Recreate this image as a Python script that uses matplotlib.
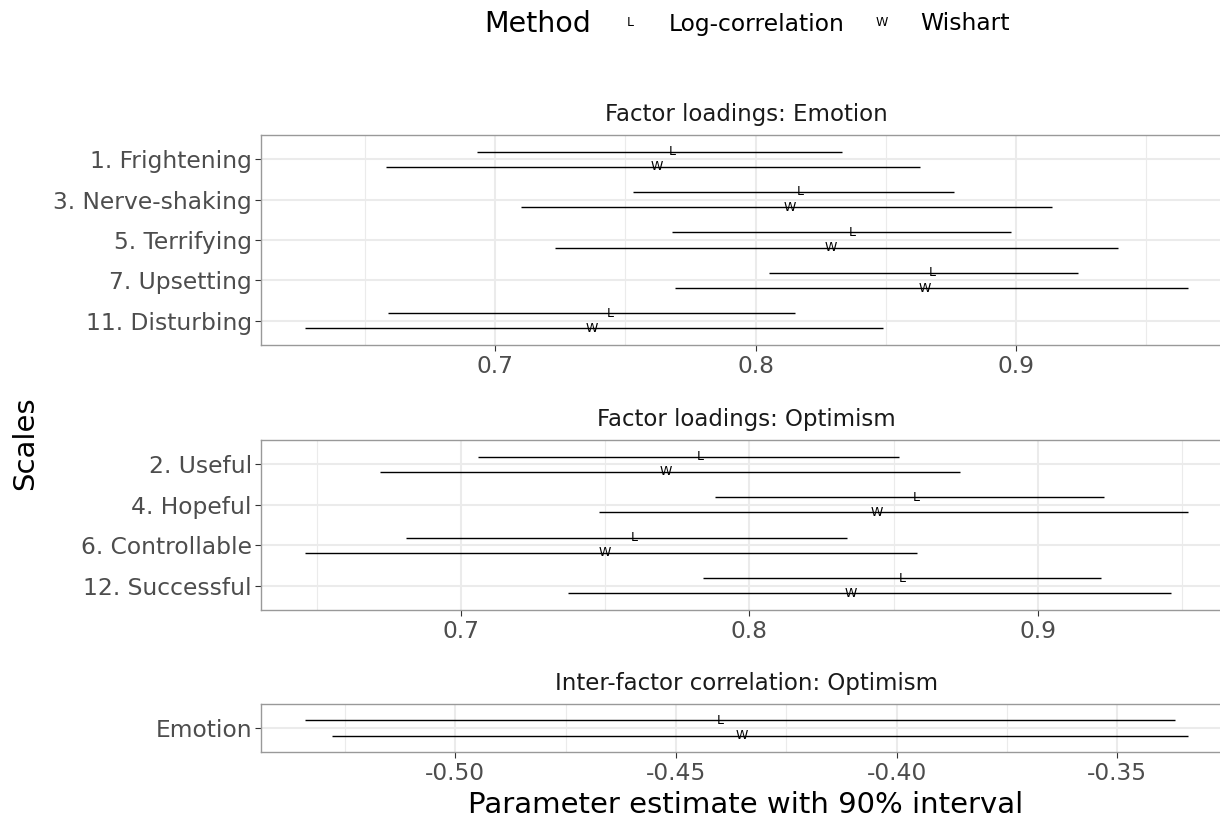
import matplotlib
matplotlib.use("Agg")
import matplotlib.pyplot as plt
from matplotlib.ticker import MultipleLocator, FormatStrFormatter
import numpy as np

plt.rcParams['font.family'] = ['DejaVu Sans']
plt.rcParams['axes.unicode_minus'] = False

# --- data ---
methods = ["Log-correlation", "Wishart"]
method_keys = ["L", "W"]

emotion_items = ["1. Frightening", "3. Nerve-shaking", "5. Terrifying", "7. Upsetting", "11. Disturbing"]
emo_log_est = [0.768, 0.817, 0.837, 0.868, 0.744]
emo_log_lo = [0.693, 0.753, 0.768, 0.805, 0.659]
emo_log_hi = [0.833, 0.876, 0.898, 0.924, 0.815]
emo_wis_est = [0.762, 0.813, 0.829, 0.865, 0.737]
emo_wis_lo = [0.658, 0.710, 0.723, 0.769, 0.627]
emo_wis_hi = [0.863, 0.914, 0.939, 0.966, 0.849]

optimism_items = ["2. Useful", "4. Hopeful", "6. Controllable", "12. Successful"]
opt_log_est = [0.783, 0.858, 0.760, 0.853]
opt_log_lo = [0.706, 0.788, 0.681, 0.784]
opt_log_hi = [0.852, 0.923, 0.834, 0.922]
opt_wis_est = [0.771, 0.844, 0.750, 0.835]
opt_wis_lo = [0.672, 0.748, 0.646, 0.737]
opt_wis_hi = [0.873, 0.952, 0.858, 0.946]

corr_items = ["Emotion"]
corr_log_est = [-0.440]
corr_log_lo = [-0.534]
corr_log_hi = [-0.337]
corr_wis_est = [-0.435]
corr_wis_lo = [-0.528]
corr_wis_hi = [-0.334]

panels = [
    ("Factor loadings: Emotion", emotion_items,
     [(emo_log_est, emo_log_lo, emo_log_hi), (emo_wis_est, emo_wis_lo, emo_wis_hi)],
     0.1, 0.05, "%.1f"),
    ("Factor loadings: Optimism", optimism_items,
     [(opt_log_est, opt_log_lo, opt_log_hi), (opt_wis_est, opt_wis_lo, opt_wis_hi)],
     0.1, 0.05, "%.1f"),
    ("Inter-factor correlation: Optimism", corr_items,
     [(corr_log_est, corr_log_lo, corr_log_hi), (corr_wis_est, corr_wis_lo, corr_wis_hi)],
     0.05, 0.025, "%.2f"),
]

W, H = 1220, 819
fig = plt.figure(figsize=(W / 100, H / 100), dpi=100)

# panel boxes in pixels (left, top, right, bottom); the right edge runs past the image
boxes = [(261, 135, 1232, 345), (261, 440, 1232, 610), (261, 704, 1232, 752)]
dodge = [-0.19, 0.19]
grid_col = "#ebebeb"

for (title, items, series, major, minor, fmt), (l, t, r, b) in zip(panels, boxes):
    ax = fig.add_axes([l / W, 1 - b / H, (r - l) / W, (b - t) / H])
    y = np.arange(len(items))
    for k, (est, lo, hi) in enumerate(series):
        yy = y + dodge[k]
        ax.hlines(yy, lo, hi, color="black", lw=1.0, zorder=3)
        for xi, yi in zip(est, yy):
            ax.text(xi, yi, method_keys[k], ha="center", va="center",
                    fontsize=9, color="black", zorder=4)
    ax.margins(x=0.05)
    ax.set_ylim(len(items) - 1 + 0.6, -0.6)
    ax.set_yticks(y)
    ax.set_yticklabels(items)
    ax.xaxis.set_major_locator(MultipleLocator(major))
    ax.xaxis.set_minor_locator(MultipleLocator(minor))
    ax.xaxis.set_major_formatter(FormatStrFormatter(fmt))
    ax.grid(True, which="major", color=grid_col, lw=1.5, zorder=0)
    ax.grid(True, which="minor", axis="x", color=grid_col, lw=0.8, zorder=0)
    ax.set_axisbelow(True)
    ax.tick_params(which="major", length=4, width=0.8, color="#333333",
                   labelsize=16.8, labelcolor="#4d4d4d", pad=3)
    ax.tick_params(axis="y", pad=2.5)
    ax.tick_params(which="minor", length=0)
    for s in ax.spines.values():
        s.set_color("#999999")
        s.set_linewidth(1.0)
    ax.set_title(title, fontsize=16.5, color="#1a1a1a", pad=10)

fig.text(25 / W, 1 - 443 / H, "Scales", rotation=90, ha="center", va="center", fontsize=21)
fig.text(746 / W, 1 - 805 / H, "Parameter estimate with 90% interval",
         ha="center", va="center", fontsize=21)

# legend on top
fig.text(484 / W, 1 - 24 / H, "Method", ha="left", va="center", fontsize=20.5)
for key, name, kx, lx in zip(method_keys, methods, [630, 882], [669, 920]):
    fig.text(kx / W, 1 - 23 / H, key, ha="center", va="center", fontsize=9)
    fig.text(lx / W, 1 - 24 / H, name, ha="left", va="center", fontsize=16.8)

fig.savefig("out.png", dpi=100)
